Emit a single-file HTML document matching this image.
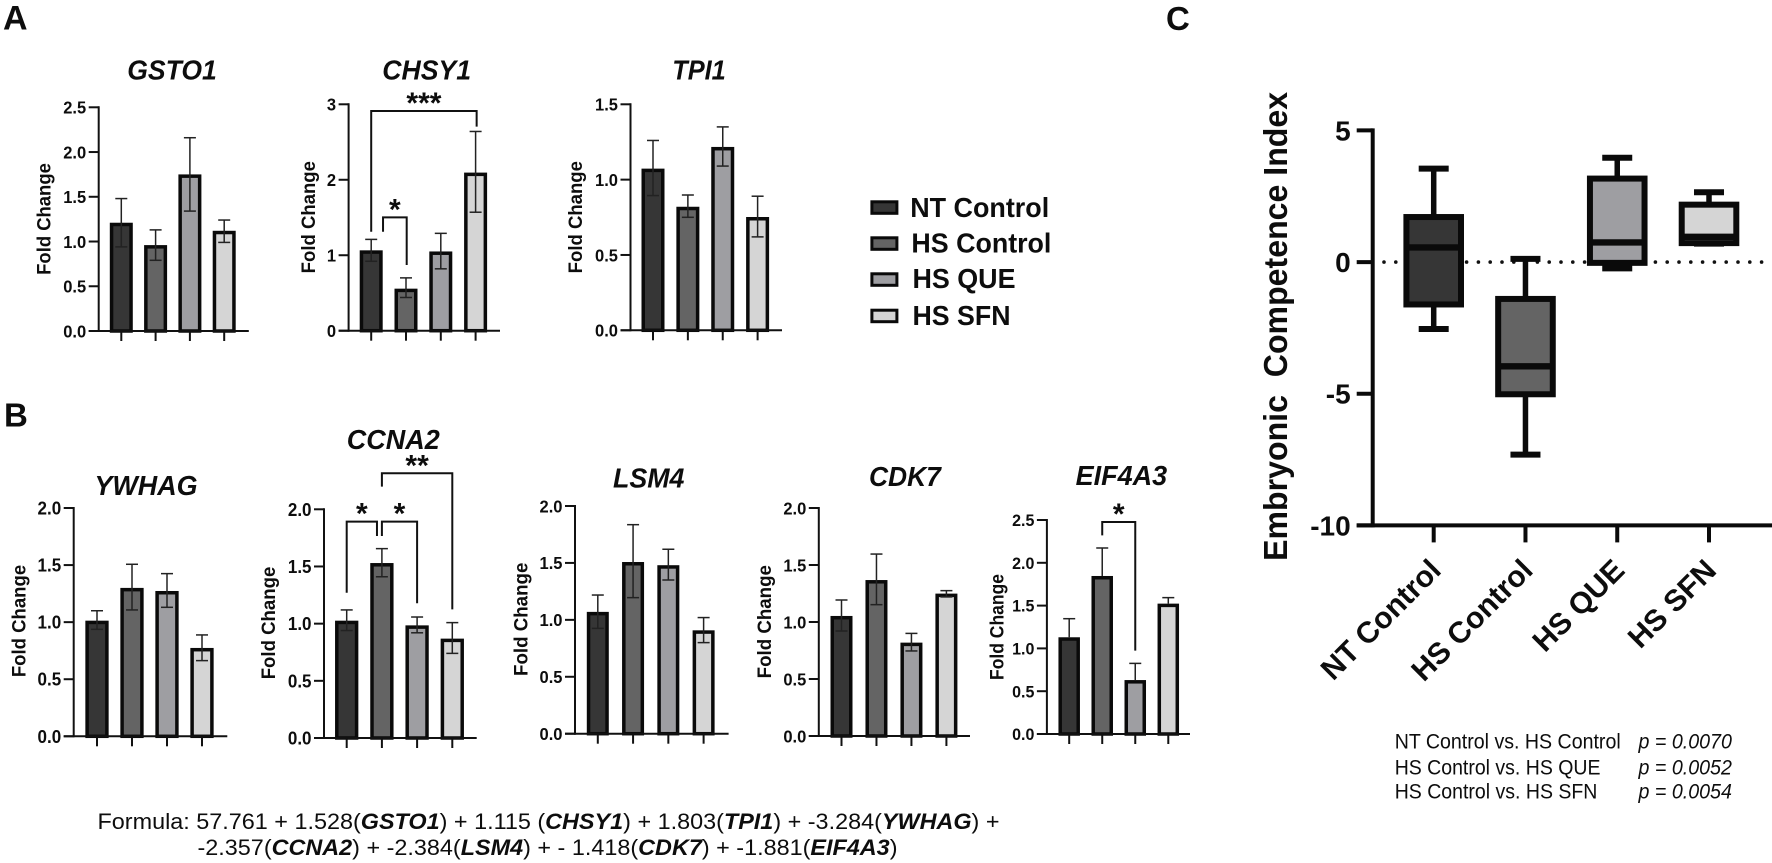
<!DOCTYPE html>
<html lang="en">
<head>
<meta charset="utf-8">
<title>Embryonic competence gene expression figure</title>
<style>
html,body{margin:0;padding:0;background:#fff;width:1772px;height:863px;overflow:hidden}
svg{display:block;filter:blur(0.35px)}
text{font-family:"Liberation Sans",Arial,sans-serif;fill:#0d0d0d}
</style>
</head>
<body>
<svg id="figure" xmlns="http://www.w3.org/2000/svg" width="1772" height="863" viewBox="0 0 1772 863">
  <rect x="0" y="0" width="1772" height="863" fill="#fff"/>
  <text x="3" y="29.5" font-size="34" font-weight="700">A</text>
  <text x="4" y="426.5" font-size="33" font-weight="700">B</text>
  <text x="1166" y="30" font-size="33" font-weight="700">C</text>

  <g>
    <g>
      <rect x="871.9" y="201.8" width="25" height="11.5" fill="#363636" stroke="#0a0a0a" stroke-width="3"/>
      <text x="910.2" y="217" font-size="28" font-weight="700" textLength="139" lengthAdjust="spacingAndGlyphs">NT Control</text>
    </g>
    <g>
      <rect x="871.9" y="237.8" width="25" height="11.5" fill="#646464" stroke="#0a0a0a" stroke-width="3"/>
      <text x="911.4" y="252.7" font-size="28" font-weight="700" textLength="140" lengthAdjust="spacingAndGlyphs">HS Control</text>
    </g>
    <g>
      <rect x="871.9" y="273.8" width="25" height="11.5" fill="#9e9ea2" stroke="#0a0a0a" stroke-width="3"/>
      <text x="912.5" y="288" font-size="28" font-weight="700" textLength="103" lengthAdjust="spacingAndGlyphs">HS QUE</text>
    </g>
    <g>
      <rect x="871.9" y="310.2" width="25" height="11.5" fill="#d5d5d5" stroke="#0a0a0a" stroke-width="3"/>
      <text x="912.5" y="325" font-size="28" font-weight="700" textLength="98" lengthAdjust="spacingAndGlyphs">HS SFN</text>
    </g>
  </g>

  <g font-size="21">
    <text x="1394.7" y="748.3" textLength="226" lengthAdjust="spacingAndGlyphs">NT Control vs. HS Control</text>
    <text x="1638.5" y="748.3" font-style="italic" textLength="93.4" lengthAdjust="spacingAndGlyphs">p = 0.0070</text>
    <text x="1394.7" y="774.3" textLength="205.8" lengthAdjust="spacingAndGlyphs">HS Control vs. HS QUE</text>
    <text x="1638.5" y="774.3" font-style="italic" textLength="93.4" lengthAdjust="spacingAndGlyphs">p = 0.0052</text>
    <text x="1394.7" y="798.3" textLength="202.7" lengthAdjust="spacingAndGlyphs">HS Control vs. HS SFN</text>
    <text x="1638.5" y="798.3" font-style="italic" textLength="93.4" lengthAdjust="spacingAndGlyphs">p = 0.0054</text>
  </g>

  <g font-size="22.5">
    <text x="97.5" y="829" textLength="902" lengthAdjust="spacingAndGlyphs">Formula: 57.761 + 1.528(<tspan font-weight="700" font-style="italic">GSTO1</tspan>) + 1.115 (<tspan font-weight="700" font-style="italic">CHSY1</tspan>) + 1.803(<tspan font-weight="700" font-style="italic">TPI1</tspan>) + -3.284(<tspan font-weight="700" font-style="italic">YWHAG</tspan>) +</text>
    <text x="197.5" y="855" textLength="700" lengthAdjust="spacingAndGlyphs">-2.357(<tspan font-weight="700" font-style="italic">CCNA2</tspan>) + -2.384(<tspan font-weight="700" font-style="italic">LSM4</tspan>) + - 1.418(<tspan font-weight="700" font-style="italic">CDK7</tspan>) + -1.881(<tspan font-weight="700" font-style="italic">EIF4A3</tspan>)</text>
  </g>
</svg>

<script>
// ---------- data ----------
const categories = ['NT Control', 'HS Control', 'HS QUE', 'HS SFN'];

const gsto1Means = [1.21, 0.96, 1.75, 1.12];
const gsto1ErrHigh = [1.48, 1.13, 2.16, 1.24];
const gsto1ErrLow = [0.94, 0.79, 1.34, 0.99];
const gsto1Ticks = ['0.0', '0.5', '1.0', '1.5', '2.0', '2.5'];

const chsy1Means = [1.065, 0.557, 1.05, 2.095];
const chsy1ErrHigh = [1.21, 0.70, 1.29, 2.64];
const chsy1ErrLow = [0.92, 0.44, 0.82, 1.57];
const chsy1Ticks = ['0', '1', '2', '3'];

const tpi1Means = [1.073, 0.82, 1.217, 0.752];
const tpi1ErrHigh = [1.26, 0.898, 1.35, 0.89];
const tpi1ErrLow = [0.894, 0.75, 1.09, 0.62];
const tpi1Ticks = ['0.0', '0.5', '1.0', '1.5'];

const ywhagMeans = [1.013, 1.30, 1.273, 0.774];
const ywhagErrHigh = [1.10, 1.507, 1.425, 0.888];
const ywhagErrLow = [0.937, 1.107, 1.13, 0.663];
const ywhagTicks = ['0.0', '0.5', '1.0', '1.5', '2.0'];

const ccna2Means = [1.026, 1.53, 0.985, 0.869];
const ccna2ErrHigh = [1.12, 1.656, 1.058, 1.009];
const ccna2ErrLow = [0.94, 1.41, 0.92, 0.74];
const ccna2Ticks = ['0.0', '0.5', '1.0', '1.5', '2.0'];

const lsm4Means = [1.07, 1.508, 1.48, 0.908];
const lsm4ErrHigh = [1.218, 1.836, 1.62, 1.02];
const lsm4ErrLow = [0.925, 1.195, 1.35, 0.80];
const lsm4Ticks = ['0.0', '0.5', '1.0', '1.5', '2.0'];

const cdk7Means = [1.053, 1.368, 0.819, 1.249];
const cdk7ErrHigh = [1.193, 1.596, 0.90, 1.275];
const cdk7ErrLow = [0.921, 1.152, 0.746, 1.22];
const cdk7Ticks = ['0.0', '0.5', '1.0', '1.5', '2.0'];

const eif4a3Means = [1.13, 1.846, 0.63, 1.523];
const eif4a3ErrHigh = [1.347, 2.173, 0.825, 1.593];
const eif4a3ErrLow = [null, null, null, null];
const eif4a3Ticks = ['0.0', '0.5', '1.0', '1.5', '2.0', '2.5'];

// significance brackets, in category-index and fold-change units
const chsy1Brackets = [
  {from: 0, to: 3.03, start: 1.312, top: 2.912, end: 2.704, stars: '***'},
  {from: 0.34, to: 1.02, start: 1.312, top: 1.502, end: 0.87, stars: '*'}
];
const ccna2Brackets = [
  {from: 0, to: 0.86, start: 1.27, top: 1.892, end: 1.767, stars: '*'},
  {from: 1, to: 2, start: 1.767, top: 1.892, end: 1.178, stars: '*'},
  {from: 1, to: 3, start: 2.198, top: 2.315, end: 1.125, stars: '**'}
];
const eif4a3Brackets = [
  {from: 1, to: 2, start: 2.32, top: 2.477, end: 0.974, stars: '*'}
];

// panel C box plot
const boxWhiskerHigh = [3.55, 0.12, 3.96, 2.65];
const boxQ3 = [1.71, -1.40, 3.17, 2.18];
const boxMedian = [0.556, -3.96, 0.746, 0.96];
const boxQ1 = [-1.61, -5.02, -0.03, 0.72];
const boxWhiskerLow = [-2.54, -7.31, -0.24, 0.70];
const boxTicks = ['-10', '-5', '0', '5'];

// ---------- presentation ----------
const fills = ['#363636', '#646464', '#9e9ea2', '#d5d5d5'];
const barStroke = 3.5;
const NS = 'http://www.w3.org/2000/svg';
const svg = document.getElementById('figure');

function shape(parent, tag, props) {
  const el = document.createElementNS(NS, tag);
  for (const key in props) el.setAttribute(key, props[key]);
  parent.appendChild(el);
  return el;
}

const panels = [
  {id: 'gsto1', title: 'GSTO1', means: gsto1Means, high: gsto1ErrHigh, low: gsto1ErrLow, ticks: gsto1Ticks, brackets: [],
   axisX: 98.7, y0: 331, yTop: 107.3, xFirst: 121.3, xStep: 34.3, barW: 23, xEnd: 248.8, tickFont: 16.5,
   titleX: 172, titleY: 79.3, titleW: 89.5, labelX: 50.5, labelY: 219, labelLen: 111.7},
  {id: 'chsy1', title: 'CHSY1', means: chsy1Means, high: chsy1ErrHigh, low: chsy1ErrLow, ticks: chsy1Ticks, brackets: chsy1Brackets,
   axisX: 348.6, y0: 330.7, yTop: 104.3, xFirst: 371.2, xStep: 34.8, barW: 23, xEnd: 500, tickFont: 16.5,
   titleX: 426.7, titleY: 79.3, titleW: 88.8, labelX: 315, labelY: 217.2, labelLen: 112.3},
  {id: 'tpi1', title: 'TPI1', means: tpi1Means, high: tpi1ErrHigh, low: tpi1ErrLow, ticks: tpi1Ticks, brackets: [],
   axisX: 630.5, y0: 330.3, yTop: 104.3, xFirst: 653, xStep: 34.87, barW: 23, xEnd: 782, tickFont: 16.5,
   titleX: 699, titleY: 79.3, titleW: 53.6, labelX: 582, labelY: 217.2, labelLen: 112.3},
  {id: 'ywhag', title: 'YWHAG', means: ywhagMeans, high: ywhagErrHigh, low: ywhagErrLow, ticks: ywhagTicks, brackets: [],
   axisX: 73.7, y0: 736.3, yTop: 508, xFirst: 97, xStep: 35, barW: 23.3, xEnd: 227.3, tickFont: 17,
   titleX: 146, titleY: 495, titleW: 103, labelX: 25.5, labelY: 621, labelLen: 112.3},
  {id: 'ccna2', title: 'CCNA2', means: ccna2Means, high: ccna2ErrHigh, low: ccna2ErrLow, ticks: ccna2Ticks, brackets: ccna2Brackets,
   axisX: 324, y0: 738, yTop: 509.3, xFirst: 346.7, xStep: 35.2, barW: 23.3, xEnd: 476.7, tickFont: 17,
   titleX: 393.3, titleY: 449, titleW: 93, labelX: 275, labelY: 623, labelLen: 112.6},
  {id: 'lsm4', title: 'LSM4', means: lsm4Means, high: lsm4ErrHigh, low: lsm4ErrLow, ticks: lsm4Ticks, brackets: [],
   axisX: 575, y0: 733.7, yTop: 506, xFirst: 597.8, xStep: 35.27, barW: 22, xEnd: 728.6, tickFont: 16.5,
   titleX: 648.7, titleY: 487.3, titleW: 71.4, labelX: 527.5, labelY: 619.3, labelLen: 113.3},
  {id: 'cdk7', title: 'CDK7', means: cdk7Means, high: cdk7ErrHigh, low: cdk7ErrLow, ticks: cdk7Ticks, brackets: [],
   axisX: 818.8, y0: 736, yTop: 508, xFirst: 841.5, xStep: 34.97, barW: 22, xEnd: 970, tickFont: 16.5,
   titleX: 904.9, titleY: 486, titleW: 71.9, labelX: 771, labelY: 621.7, labelLen: 113.3},
  {id: 'eif4a3', title: 'EIF4A3', means: eif4a3Means, high: eif4a3ErrHigh, low: eif4a3ErrLow, ticks: eif4a3Ticks, brackets: eif4a3Brackets,
   axisX: 1046.9, y0: 734, yTop: 520, xFirst: 1069.2, xStep: 33.03, barW: 21.5, xEnd: 1190, tickFont: 16,
   titleX: 1121.4, titleY: 485, titleW: 91.5, labelX: 1003.5, labelY: 627, labelLen: 106}
];

function drawBarPanel(p) {
  const tickVals = p.ticks.map(Number);
  const yMax = Math.max.apply(null, tickVals);
  const yScale = v => p.y0 - (v / yMax) * (p.y0 - p.yTop);
  const xScale = i => p.xFirst + i * p.xStep;

  const g = shape(svg, 'g', {});
  
  

  const title = shape(g, 'text', {x: p.titleX, y: p.titleY, 'text-anchor': 'middle', 'font-size': 28, 'font-weight': 700, 'font-style': 'italic', textLength: p.titleW, lengthAdjust: 'spacingAndGlyphs'});
  title.textContent = p.title;
  
  

  const yTitle = shape(g, 'text', {transform: 'translate(' + p.labelX + ',' + p.labelY + ') rotate(-90)', 'text-anchor': 'middle', 'font-size': 19, 'font-weight': 700, textLength: p.labelLen, lengthAdjust: 'spacingAndGlyphs'});
  yTitle.textContent = 'Fold Change';
  
  

  // bars
  p.means.forEach(function (v, i) {
    const top = yScale(v);
    const bar = shape(g, 'rect', {x: xScale(i) - p.barW / 2 + barStroke / 2, y: top + barStroke / 2, width: p.barW - barStroke, height: Math.max(0, p.y0 - top - barStroke / 2), fill: fills[i], stroke: '#0a0a0a', 'stroke-width': barStroke});
    
    
  });

  // error bars
  p.means.forEach(function (v, i) {
    const cx = xScale(i);
    const hi = yScale(p.high[i]);
    const lo = p.low[i] === null ? yScale(v) : yScale(p.low[i]);
    const stem = shape(g, 'line', {x1: cx, x2: cx, y1: hi, y2: lo, stroke: '#222', 'stroke-width': 1.5});
    
    
    const capHigh = shape(g, 'line', {x1: cx - 6, x2: cx + 6, y1: hi, y2: hi, stroke: '#222', 'stroke-width': 1.5});
    
    
    if (p.low[i] !== null) {
      const capLow = shape(g, 'line', {x1: cx - 6, x2: cx + 6, y1: lo, y2: lo, stroke: '#222', 'stroke-width': 1.5});
      
      
    }
  });

  // axes
  const yAxis = shape(g, 'line', {x1: p.axisX, x2: p.axisX, y1: p.yTop - 1, y2: p.y0 + 1, stroke: '#111', 'stroke-width': 2});
  
  
  const xAxis = shape(g, 'line', {x1: p.axisX - 10, x2: p.xEnd, y1: p.y0, y2: p.y0, stroke: '#111', 'stroke-width': 2});
  
  

  tickVals.forEach(function (v, i) {
    const ty = yScale(v);
    const tick = shape(g, 'line', {x1: p.axisX - 10, x2: p.axisX, y1: ty, y2: ty, stroke: '#111', 'stroke-width': 2});
    
    
    const drawnFont = p.tickFont + 1;
    const label = shape(g, 'text', {x: p.axisX - 12.5, y: ty + drawnFont * 0.36, 'text-anchor': 'end', 'font-size': drawnFont, 'font-weight': 700});
    label.textContent = p.ticks[i];
    label.setAttribute('textLength', label.getComputedTextLength() * p.tickFont / drawnFont);
    label.setAttribute('lengthAdjust', 'spacingAndGlyphs');
    
    
  });

  categories.forEach(function (c, i) {
    const tick = shape(g, 'line', {x1: xScale(i), x2: xScale(i), y1: p.y0, y2: p.y0 + 10, stroke: '#111', 'stroke-width': 2});
    
    
  });

  // brackets
  p.brackets.forEach(function (b) {
    const x1 = xScale(b.from), x2 = xScale(b.to), yt = yScale(b.top);
    const path = shape(g, 'path', {d: 'M' + x1 + ' ' + yScale(b.start) + 'V' + yt + 'H' + x2 + 'V' + yScale(b.end), fill: 'none', stroke: '#111', 'stroke-width': 2});
    
    
    const star = shape(g, 'text', {x: (x1 + x2) / 2, y: yt + 2, 'text-anchor': 'middle', 'font-size': 30, 'font-weight': 700});
    star.textContent = b.stars;
    
    
  });
}
panels.forEach(drawBarPanel);

// ---------- panel C ----------
(function drawBoxPanel() {
  const axisX = 1372.7, y5 = 130.4, yMin = 525.4;
  const yScale = v => yMin - ((v + 10) / 15) * (yMin - y5);
  const xScale = i => 1433.7 + i * 91.77;

  const g = shape(svg, 'g', {});
  
  

  const yTitle = shape(g, 'text', {transform: 'translate(1287,326.4) rotate(-90)', 'text-anchor': 'middle', 'font-size': 33, 'font-weight': 700, textLength: 469, lengthAdjust: 'spacingAndGlyphs', style: 'white-space:pre'});
  yTitle.textContent = 'Embryonic  Competence Index';
  
  

  const zeroLine = shape(g, 'line', {x1: 1384, x2: 1772, y1: yScale(0), y2: yScale(0), stroke: '#111', 'stroke-width': 3.6, 'stroke-linecap': 'round', 'stroke-dasharray': '0 11.8'});
  
  

  categories.forEach(function (c, i) {
    const cx = xScale(i);
    const whisker = shape(g, 'line', {x1: cx, x2: cx, y1: yScale(boxWhiskerHigh[i]), y2: yScale(boxWhiskerLow[i]), stroke: '#0a0a0a', 'stroke-width': 5.5});
    
    
    const capHigh = shape(g, 'line', {x1: cx - 15, x2: cx + 15, y1: yScale(boxWhiskerHigh[i]), y2: yScale(boxWhiskerHigh[i]), stroke: '#0a0a0a', 'stroke-width': 6});
    
    
    const capLow = shape(g, 'line', {x1: cx - 15, x2: cx + 15, y1: yScale(boxWhiskerLow[i]), y2: yScale(boxWhiskerLow[i]), stroke: '#0a0a0a', 'stroke-width': 6});
    
    
    const box = shape(g, 'rect', {x: cx - 27.3, y: yScale(boxQ3[i]), width: 54.6, height: yScale(boxQ1[i]) - yScale(boxQ3[i]), fill: fills[i], stroke: '#0a0a0a', 'stroke-width': 6});
    
    
    const median = shape(g, 'line', {x1: cx - 27.3, x2: cx + 27.3, y1: yScale(boxMedian[i]), y2: yScale(boxMedian[i]), stroke: '#0a0a0a', 'stroke-width': 6.4});
    
    

    const tick = shape(g, 'line', {x1: cx, x2: cx, y1: yMin, y2: yMin + 17, stroke: '#0a0a0a', 'stroke-width': 4});
    
    
    const label = shape(g, 'text', {transform: 'translate(' + (cx + 9) + ',572) rotate(-45)', 'text-anchor': 'end', 'font-size': 30, 'font-weight': 700});
    label.textContent = c;
    
    
  });

  const yAxis = shape(g, 'line', {x1: axisX, x2: axisX, y1: y5 - 2, y2: yMin + 2, stroke: '#0a0a0a', 'stroke-width': 4});
  
  
  const xAxis = shape(g, 'line', {x1: axisX - 16, x2: 1772, y1: yMin, y2: yMin, stroke: '#0a0a0a', 'stroke-width': 4});
  
  

  boxTicks.forEach(function (t) {
    const ty = yScale(Number(t));
    const tick = shape(g, 'line', {x1: axisX - 16, x2: axisX, y1: ty, y2: ty, stroke: '#0a0a0a', 'stroke-width': 4});
    
    
    const label = shape(g, 'text', {x: 1350.7, y: ty + 10, 'text-anchor': 'end', 'font-size': 28, 'font-weight': 700});
    label.textContent = t;
    
    
  });
})();
</script>
</body>
</html>
